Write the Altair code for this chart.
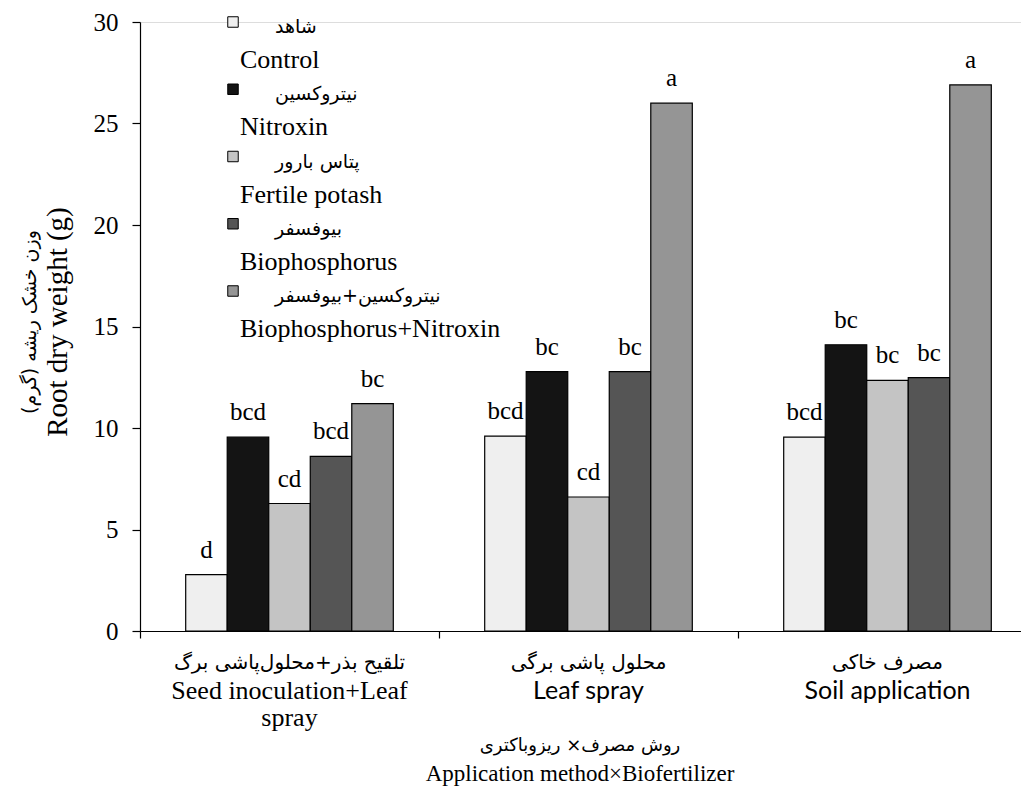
import altair as alt
import pandas as pd

# ---- data ----
groups_en = ["Seed inoculation+Leaf\nspray", "Leaf spray", "Soil application"]
groups_fa = ["تلقیح بذر+محلول‌پاشی برگ", "محلول پاشی برگی", "مصرف خاکی"]
series_en = ["Control", "Nitroxin", "Fertile potash", "Biophosphorus", "Biophosphorus+Nitroxin"]
series_fa = ["شاهد", "نیتروکسین", "پتاس بارور", "بیوفسفر", "نیتروکسین+بیوفسفر"]

control = [2.78, 9.6, 9.55]
nitroxin = [9.55, 12.78, 14.1]
fertile_potash = [6.28, 6.6, 12.35]
biophosphorus = [8.6, 12.78, 12.48]
bio_nitroxin = [11.2, 26.0, 26.9]

letters_control = ["d", "bcd", "bcd"]
letters_nitroxin = ["bcd", "bc", "bc"]
letters_fertile = ["cd", "cd", "bc"]
letters_bio = ["bcd", "bc", "bc"]
letters_bn = ["bc", "a", "a"]

y_ticks = [0, 5, 10, 15, 20, 25, 30]
fills = ["#efefef", "#141414", "#c4c4c4", "#555555", "#959595"]

# ---- tables ----
vals = [control, nitroxin, fertile_potash, biophosphorus, bio_nitroxin]
lets = [letters_control, letters_nitroxin, letters_fertile, letters_bio, letters_bn]
rows = []
for s, v, l in zip(series_en, vals, lets):
    for g, val, let in zip(groups_en, v, l):
        rows.append({"group": g, "series": s, "value": val, "letter": let})
df = pd.DataFrame(rows)

leg = pd.DataFrame({"series": series_en, "fa": series_fa})
cat = pd.DataFrame({"group": groups_en, "fa": groups_fa})

SERIF = "Liberation Serif"
FA = "DejaVu Sans"

x_scale = alt.Scale(domain=groups_en, range=[0, 897], paddingInner=0, paddingOuter=0)
xo_scale = alt.Scale(domain=series_en, range=[45.7, 253.3], paddingInner=0, paddingOuter=0)
y_scale = alt.Scale(domain=[0, 30], nice=False, zero=True)
color_scale = alt.Scale(domain=series_en, range=fills)

bars = alt.Chart(df).mark_bar(stroke="black", strokeWidth=1.2).encode(
    x=alt.X("group:N", scale=x_scale, sort=groups_en,
            axis=alt.Axis(labels=False, title=None, tickBand="extent", tickSize=7,
                          domainColor="black", tickColor="black", domainWidth=1.2, tickWidth=1.2)),
    xOffset=alt.XOffset("series:N", scale=xo_scale, sort=series_en),
    y=alt.Y("value:Q", scale=y_scale,
            axis=alt.Axis(values=y_ticks, title=None, grid=False, tickSize=8, labelPadding=14,
                          labelFont=SERIF, labelFontSize=25, labelColor="black",
                          domainColor="black", tickColor="black", domainWidth=1.2, tickWidth=1.2)),
    fill=alt.Fill("series:N", scale=color_scale, legend=None),
)

letters = alt.Chart(df).mark_text(font=SERIF, fontSize=25, dy=-17, baseline="alphabetic",
                                  color="black").encode(
    x=alt.X("group:N", scale=x_scale, sort=groups_en),
    xOffset=alt.XOffset("series:N", scale=xo_scale, sort=series_en),
    y=alt.Y("value:Q", scale=y_scale, axis=None),
    text="letter:N",
)

# legend built from marks
leg_y = alt.Y("series:N", scale=alt.Scale(type="point", domain=series_en, range=[0, 269], padding=0),
              axis=None)
leg_sym = alt.Chart(leg).mark_point(shape="square", size=110, filled=True, stroke="black",
                                   strokeWidth=1, opacity=1).encode(
    x=alt.value(93), y=leg_y,
    fill=alt.Fill("series:N", scale=color_scale, legend=None),
)
leg_fa = alt.Chart(leg).mark_text(font=FA, fontSize=19, align="left", baseline="middle",
                                  dy=5, color="black").encode(
    x=alt.value(135), y=leg_y, text="fa:N")
leg_en = alt.Chart(leg).mark_text(font=SERIF, fontSize=26, align="left", baseline="middle",
                                  dy=38, color="black").encode(
    x=alt.value(100), y=leg_y, text="series:N")

# category labels
cat_fa = alt.Chart(cat).mark_text(font=FA, fontSize=20, baseline="middle", color="black").encode(
    x=alt.X("group:N", scale=x_scale, sort=groups_en), y=alt.value(641), text="fa:N")
cat_en_serif = alt.Chart(cat).transform_filter(
    alt.datum.group == groups_en[0]
).mark_text(font=SERIF, fontSize=26, baseline="alphabetic", lineBreak="\n", lineHeight=27,
            color="black").encode(
    x=alt.X("group:N", scale=x_scale, sort=groups_en), y=alt.value(677), text="group:N")
cat_en_sans = alt.Chart(cat).transform_filter(
    alt.datum.group != groups_en[0]
).mark_text(font="Lato", fontSize=25, baseline="alphabetic", color="black").encode(
    x=alt.X("group:N", scale=x_scale, sort=groups_en), y=alt.value(677), text="group:N")

# axis titles
xt = pd.DataFrame({"t": [0]})
xtitle_fa = alt.Chart(xt).mark_text(font=FA, fontSize=18, baseline="middle", color="black",
                                    text="روش مصرف× ریزوباکتری").encode(
    x=alt.value(440), y=alt.value(724))
xtitle_en = alt.Chart(xt).mark_text(font=SERIF, fontSize=23, baseline="middle", color="black",
                                    text="Application method×Biofertilizer").encode(
    x=alt.value(440), y=alt.value(752))
ytitle_fa = alt.Chart(xt).mark_text(font=FA, fontSize=19, baseline="middle", angle=270,
                                    color="black", text="وزن خشک ریشه (گرم)").encode(
    x=alt.value(-110), y=alt.value(300))
ytitle_en = alt.Chart(xt).mark_text(font=SERIF, fontSize=29, baseline="middle", angle=270,
                                    color="black", text="Root dry weight (g)").encode(
    x=alt.value(-82), y=alt.value(300))

chart = alt.layer(
    bars, letters, leg_sym, leg_fa, leg_en, cat_fa, cat_en_serif, cat_en_sans,
    xtitle_fa, xtitle_en, ytitle_fa, ytitle_en
).resolve_scale(y="independent").properties(
    width=881, height=609,
    autosize=alt.AutoSizeParams(type="none"),
    padding={"left": 132, "top": 14, "right": 0, "bottom": 157},
).configure_view(stroke=None).configure(background="white")

chart.save("out.html", embed_options={"renderer": "svg", "actions": False})
